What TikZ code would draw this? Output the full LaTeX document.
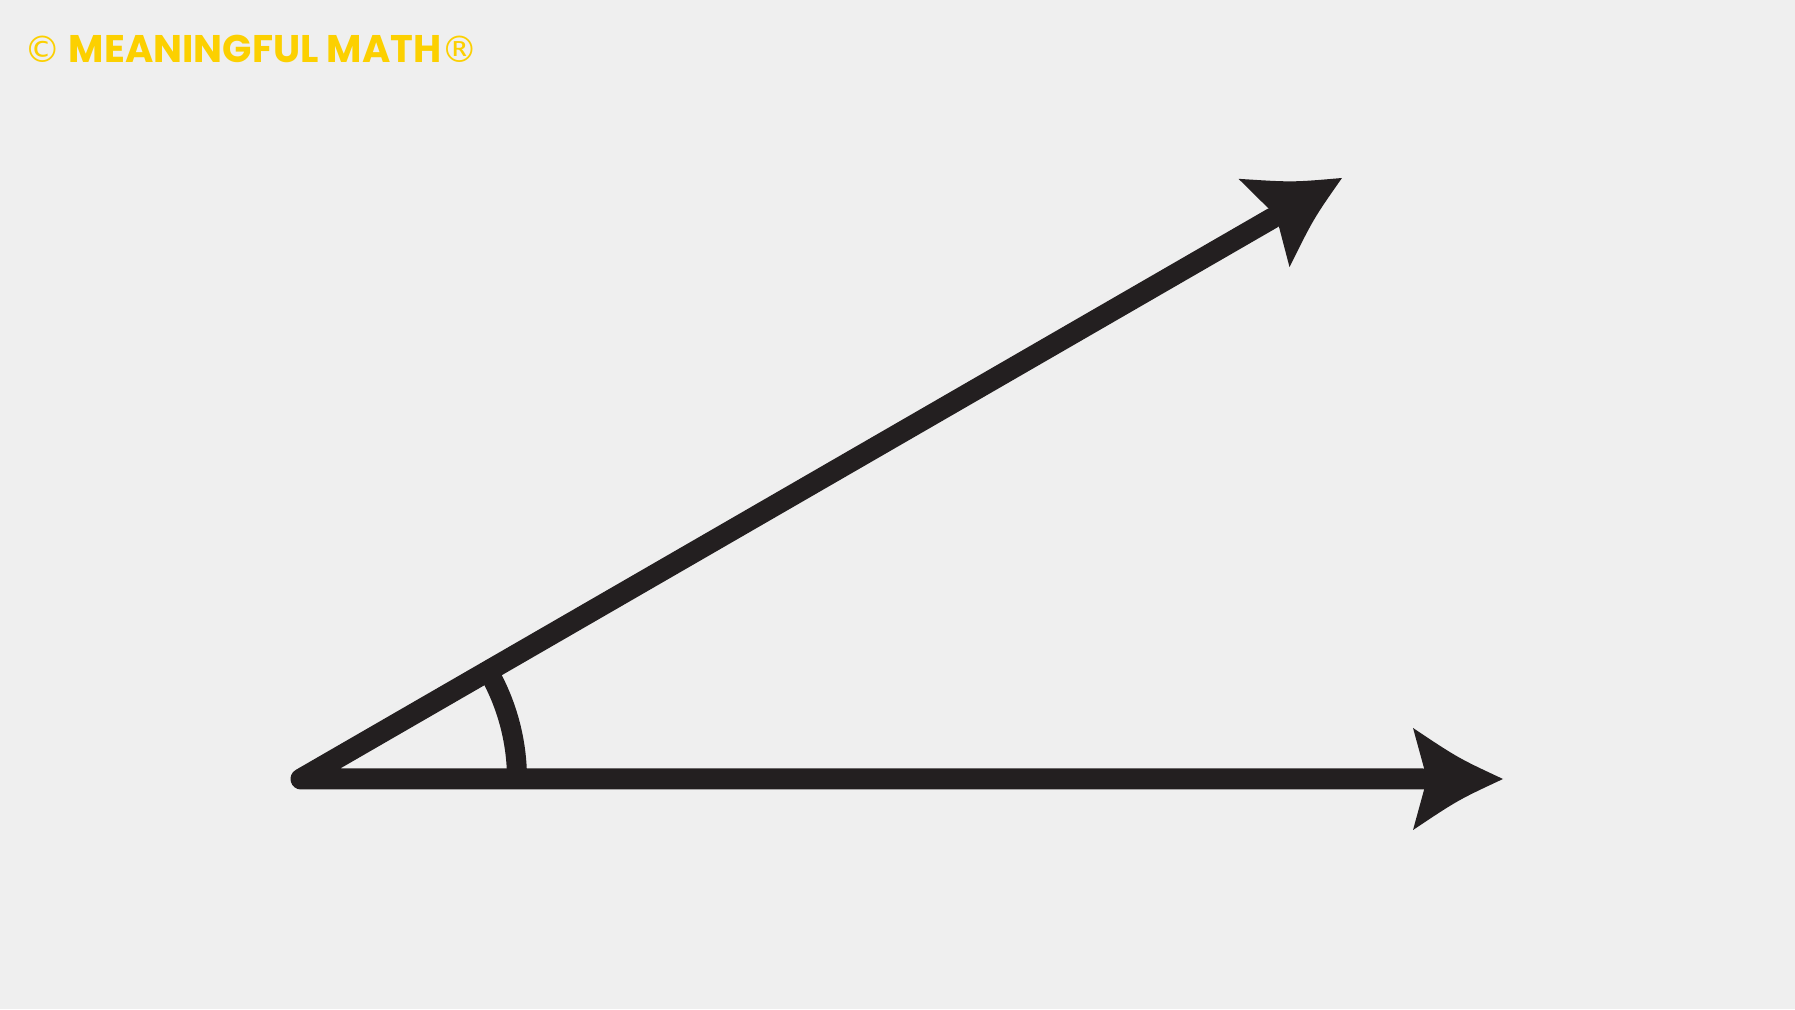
\documentclass[tikz,border=0pt]{standalone}
\usepackage{fontspec}
\newfontfamily\brand{Poppins}
\newfontfamily\symfont{DejaVu Sans}
\usetikzlibrary{calc}
\definecolor{bg}{RGB}{239,239,239}
\definecolor{ink}{RGB}{35,31,32}
\definecolor{gold}{RGB}{252,208,0}
\tikzset{
  ray/.style={draw=ink, line width=21pt, line join=round, line cap=round},
  anglearc/.style={draw=ink, line width=20pt},
  brandtext/.style={text=gold, inner sep=0pt, font=\brand\bfseries\fontsize{38.5}{38.5}\selectfont},
  arrowhead/.pic={\fill[ink] (0,0) .. controls (-45,21) .. (-90,51) -- (-76,0) -- (-90,-51) .. controls (-45,-21) .. (0,0) -- cycle;}
}
\begin{document}
\begin{tikzpicture}[x=1pt,y=1pt]
\useasboundingbox[fill=bg] (0,0) rectangle (1795,1009);
\node[brandtext, anchor=west] (title) at (24,960) {{\symfont\mdseries\fontsize{36.5}{36.5}\selectfont ©} MEANINGFUL MATH{\symfont\mdseries\fontsize{36.5}{36.5}\selectfont ®}};
\coordinate (V) at (301,230);
\coordinate (H) at (1503,230);
\coordinate (U) at ($(V)+(30:1202)$);
\draw[anglearc] ($(V)+(216,0)$) arc[start angle=0, end angle=30, radius=216];
\draw[ray] ($(U)+(210:80)$) -- (V) -- ($(H)+(-80,0)$);
\pic[rotate=30] at (U) {arrowhead};
\pic at (H) {arrowhead};
\end{tikzpicture}
\end{document}
